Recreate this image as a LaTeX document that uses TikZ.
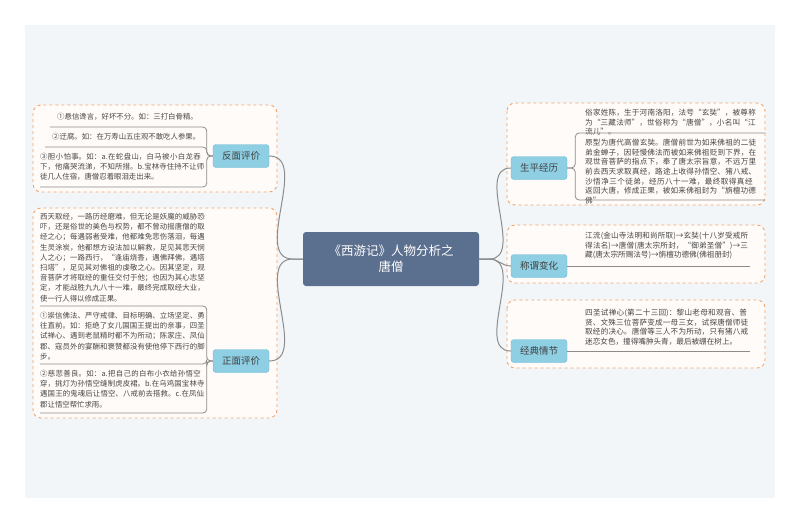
\documentclass[tikz,border=0pt]{standalone}
\usepackage{fontspec}
\setmainfont{Noto Sans CJK SC}
\XeTeXlinebreaklocale "zh"
\XeTeXlinebreakskip=0pt plus 1pt
\definecolor{cbox}{HTML}{5B6F8E}
\definecolor{bfill}{HTML}{8ECFE4}
\definecolor{bline}{HTML}{6CB9D4}
\definecolor{gline}{HTML}{F2A46B}
\definecolor{gfill}{HTML}{FFFBF8}
\definecolor{bg}{HTML}{F3F6F9}
\begin{document}
\begin{tikzpicture}[x=1pt,y=-1pt,
 grp/.style={draw=gline, dashed, line width=0.9pt, rounded corners=8pt, fill=gfill},
 br/.style={draw=bline, fill=bfill, rounded corners=3pt, minimum width=56pt, minimum height=23pt, font=\fontsize{9.5}{11}\selectfont, text=black!75, inner sep=0pt},
 txt/.style={anchor=north west, align=left, inner sep=0pt, font=\fontsize{7.4}{10.2}\selectfont, text=black!72},
 rtxt/.style={txt, font=\fontsize{7.6}{9.6}\selectfont},
 ln/.style={draw=black!45, line width=0.8pt, rounded corners=4pt},
 cn/.style={draw=black!45, line width=1pt}]
\useasboundingbox (0,0) rectangle (800,523);
\fill[white] (0,0) rectangle (800,523);
\fill[bg] (25,25) rectangle (775,498);
% groups
\draw[grp] (33,105) rectangle (277,192);
\draw[grp] (33,208) rectangle (277,418);
\draw[grp] (507,103) rectangle (765,205);
\draw[grp] (507,225) rectangle (765,283);
\draw[grp] (507,300) rectangle (765,368);
% center
\node[fill=cbox, rounded corners=3pt, minimum width=176pt, minimum height=54pt, align=center, text=white, font=\fontsize{12.5}{16}\selectfont, inner sep=0pt] (c) at (391,259) {《西游记》人物分析之\\唐僧};
% branch nodes
\node[br] (fm) at (241,156) {反面评价};
\node[br] (zm) at (241,361) {正面评价};
\node[br] (sp) at (539,168) {生平经历};
\node[br] (cw) at (539,266) {称谓变化};
\node[br] (jd) at (539,351) {经典情节};
% connectors
\draw[cn] (c.west) -- ++(-10,0) to[out=180,in=0] (fm.east);
\draw[cn] (c.west) -- ++(-10,0) to[out=180,in=0] (zm.east);
\draw[cn] (c.east) -- ++(10,0) to[out=0,in=180] (sp.west);
\draw[cn] (c.east) -- ++(10,0) to[out=0,in=180] (cw.west);
\draw[cn] (c.east) -- ++(10,0) to[out=0,in=180] (jd.west);
% left top items
\node[txt] (f1) at (57,113) {①悬信谗言，好坏不分。如：三打白骨精。};
\node[txt] (f2) at (52,133) {②迂腐。如：在万寿山五庄观不敢吃人参果。};
\node[txt, text width=166pt] (f3) at (40,153) {③胆小怕事。如：a.在蛇盘山，白马被小白龙吞下，他痛哭流涕，不知所措。b.宝林寺住持不让师徒几人住宿，唐僧忍着眼泪走出来。};
\coordinate (f1e) at (50,127);\coordinate (f2e) at (45,147);\coordinate (f3e) at (40,187);
\draw[ln] (fm.west) -- ++(-6,0) |- (f1e);
\draw[ln] (fm.west) -- ++(-6,0) |- (f2e);
\draw[ln] (fm.west) -- ++(-6,0) |- (f3e);
% left bottom items
\node[txt, text width=166pt] (z0) at (40,213) {西天取经，一路历经磨难，但无论是妖魔的威胁恐吓，还是俗世的美色与权势，都不曾动摇唐僧的取经之心；每遇弱者受难，他都难免悲伤落泪，每遇生灵涂炭，他都想方设法加以解救，足见其悲天悯人之心；一路西行，“逢庙烧香，遇佛拜佛，遇塔扫塔”，足见其对佛祖的虔敬之心。因其坚定，观音菩萨才将取经的重任交付于他；也因为其心志坚定，才能战胜九九八十一难，最终完成取经大业，使一行人得以修成正果。};
\node[txt, text width=166pt] (z1) at (40,312) {①崇信佛法、严守戒律、目标明确、立场坚定、勇往直前。如：拒绝了女儿国国王提出的亲事，四圣试禅心、遇到老鼠精时都不为所动；陈家庄、凤仙郡、寇员外的宴酬和褒赞都没有使他停下西行的脚步。};
\node[txt, text width=166pt] (z2) at (40,370) {②慈悲善良。如：a.把自己的白布小衣给孙悟空穿，挑灯为孙悟空缝制虎皮裙。b.在乌鸡国宝林寺遇国王的鬼魂后让悟空、八戒前去搭救。c.在凤仙郡让悟空帮忙求雨。};
\coordinate (z0e) at (40,306);\coordinate (z1e) at (40,364);\coordinate (z2e) at (40,413);
\draw[ln] (zm.west) -- ++(-6,0) |- (z0e);
\draw[ln] (zm.west) -- ++(-6,0) |- (z1e);
\draw[ln] (zm.west) -- ++(-6,0) |- (z2e);
% right items
\node[rtxt, text width=174pt] (s1) at (585,109) {俗家姓陈，生于河南洛阳，法号“玄奘”，被尊称为“三藏法师”，世俗称为“唐僧”，小名叫“江流儿”。};
\node[rtxt, text width=174pt] (s2) at (585,139) {原型为唐代高僧玄奘。唐僧前世为如来佛祖的二徒弟金蝉子，因轻慢佛法而被如来佛祖贬到下界，在观世音菩萨的指点下，奉了唐太宗旨意，不远万里前去西天求取真经，路途上收得孙悟空、猪八戒、沙悟净三个徒弟，经历八十一难，最终取得真经返回大唐，修成正果，被如来佛祖封为“旃檀功德佛”};
\coordinate (s1e) at (765,133);\coordinate (s2e) at (765,200);
\draw[ln] (sp.east) -- ++(8,0) |- (s1e);
\draw[ln] (sp.east) -- ++(8,0) |- (s2e);
\node[rtxt, text width=166pt] (w1) at (585,232) {江流(金山寺法明和尚所取)→玄奘(十八岁受戒所得法名)→唐僧(唐太宗所封，“御弟圣僧”)→三藏(唐太宗所赐法号)→旃檀功德佛(佛祖册封)};
\coordinate (w1e) at (750,266);
\draw[ln] (cw.east) -- (w1e);
\node[rtxt, text width=166pt] (j1) at (585,309) {四圣试禅心(第二十三回)：黎山老母和观音、普贤、文殊三位菩萨变成一母三女，试探唐僧师徒取经的决心。唐僧等三人不为所动，只有猪八戒迷恋女色，撞得嘴肿头青，最后被绷在树上。};
\coordinate (j1e) at (750,351);
\draw[ln] (jd.east) -- (j1e);
\end{tikzpicture}
\end{document}
